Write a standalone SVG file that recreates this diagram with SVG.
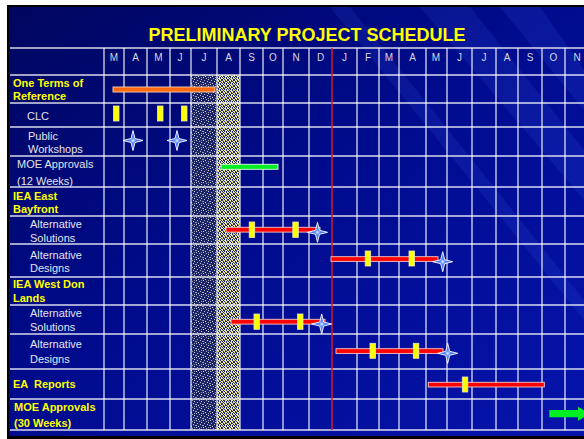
<svg xmlns="http://www.w3.org/2000/svg" width="584" height="439" viewBox="0 0 584 439">
<defs>
<linearGradient id="bg" x1="0" y1="0" x2="1" y2="1">
<stop offset="0" stop-color="#00065e"/>
<stop offset="0.45" stop-color="#000b8c"/>
<stop offset="1" stop-color="#0614ac"/>
</linearGradient>
<pattern id="darkStip" width="7" height="7" patternUnits="userSpaceOnUse">
<rect width="7" height="7" fill="#1c2468"/>
<rect x="0" y="0" width="1" height="1" fill="#c8c8d0"/>
<rect x="3" y="1" width="1" height="1" fill="#a8a8b8"/>
<rect x="5" y="2" width="1" height="1" fill="#d0d0d8"/>
<rect x="1" y="3" width="1" height="1" fill="#b0b0c0"/>
<rect x="4" y="4" width="1" height="1" fill="#c0c0c8"/>
<rect x="6" y="5" width="1" height="1" fill="#a0a0b0"/>
<rect x="2" y="6" width="1" height="1" fill="#d8d8e0"/>
<rect x="0" y="5" width="1" height="1" fill="#9898a8"/>
<rect x="5" y="0" width="1" height="1" fill="#9090a8"/>
</pattern>
<pattern id="yelStip" width="6" height="6" patternUnits="userSpaceOnUse">
<rect width="6" height="6" fill="#1e2670"/>
<rect x="0" y="0" width="1" height="1" fill="#f0ec90"/>
<rect x="2" y="0" width="1" height="1" fill="#e8e488"/>
<rect x="3" y="0" width="1" height="1" fill="#f4f0a0"/>
<rect x="5" y="0" width="1" height="1" fill="#e8e488"/>
<rect x="1" y="1" width="1" height="1" fill="#f0ec90"/>
<rect x="3" y="1" width="1" height="1" fill="#e8e488"/>
<rect x="4" y="1" width="1" height="1" fill="#f4f0a0"/>
<rect x="1" y="2" width="1" height="1" fill="#e8e488"/>
<rect x="2" y="2" width="1" height="1" fill="#f4f0a0"/>
<rect x="4" y="2" width="1" height="1" fill="#f0ec90"/>
<rect x="0" y="3" width="1" height="1" fill="#f4f0a0"/>
<rect x="2" y="3" width="1" height="1" fill="#e8e488"/>
<rect x="5" y="3" width="1" height="1" fill="#f0ec90"/>
<rect x="0" y="4" width="1" height="1" fill="#e8e488"/>
<rect x="3" y="4" width="1" height="1" fill="#f0ec90"/>
<rect x="4" y="4" width="1" height="1" fill="#f4f0a0"/>
<rect x="1" y="5" width="1" height="1" fill="#f0ec90"/>
<rect x="3" y="5" width="1" height="1" fill="#e8e488"/>
<rect x="5" y="5" width="1" height="1" fill="#f4f0a0"/>
</pattern>
<radialGradient id="starG" cx="0.5" cy="0.5" r="0.5">
<stop offset="0" stop-color="#e8f0ff"/>
<stop offset="0.25" stop-color="#5a88ff"/>
<stop offset="1" stop-color="#2a58f0"/>
</radialGradient>
<symbol id="star" overflow="visible">
<path d="M0,-10 L2,-2 L10,0 L2,2 L0,10 L-2,2 L-10,0 L-2,-2 Z" fill="url(#starG)" stroke="#ffffff" stroke-width="0.9"/>
</symbol>
<style>
.grid line{stroke:#ffffff;stroke-width:1.3;stroke-opacity:0.85}
.mon{font-family:"Liberation Sans",Arial,sans-serif;font-size:10px;fill:#d8d8e0;text-anchor:middle}
.lab{font-family:"Liberation Sans",Arial,sans-serif;font-size:11px;fill:#e4e4ec}
.ylab{font-family:"Liberation Sans",Arial,sans-serif;font-size:11px;font-weight:bold;fill:#ffff00}
.title{font-family:"Liberation Sans",Arial,sans-serif;font-size:18px;font-weight:bold;fill:#ffff00;text-anchor:middle}
.rbar{fill:#ff0000;stroke:#f4c8c8;stroke-width:0.9}
.mk{fill:#ffff00;stroke:#e8e8c0;stroke-width:0.8}
.gbar{fill:#00ee22;stroke:#e0ffe0;stroke-width:0.9}
</style>
</defs>
<rect width="584" height="439" fill="#ffffff"/>
<rect x="7" y="5" width="577" height="434" fill="#000000"/>
<rect x="9" y="7" width="575" height="429" fill="url(#bg)"/>
<g opacity="0.12" fill="#4a70ff">
<polygon points="420,7 470,7 584,150 584,200"/>
<polygon points="330,7 350,7 584,300 584,320"/>
<polygon points="500,7 540,7 584,70 584,110"/>
</g>
<text class="title" x="307" y="40.5">PRELIMINARY PROJECT SCHEDULE</text>

<g id="shading">
<rect x="191" y="75" width="26" height="355" fill="url(#darkStip)"/>
<rect x="217" y="75" width="23" height="355" fill="url(#yelStip)"/>
</g>

<g id="connectors" class="grid">
<line x1="10" y1="48" x2="584" y2="48"/>
<line x1="10" y1="75" x2="584" y2="75"/>
<line x1="10" y1="103" x2="584" y2="103"/>
<line x1="10" y1="127" x2="584" y2="127"/>
<line x1="10" y1="156" x2="584" y2="156"/>
<line x1="10" y1="187" x2="584" y2="187"/>
<line x1="10" y1="216" x2="584" y2="216"/>
<line x1="10" y1="244" x2="584" y2="244"/>
<line x1="10" y1="277" x2="584" y2="277"/>
<line x1="10" y1="305" x2="584" y2="305"/>
<line x1="10" y1="334" x2="584" y2="334"/>
<line x1="10" y1="369" x2="584" y2="369"/>
<line x1="10" y1="399" x2="584" y2="399"/>
<line x1="10" y1="430" x2="584" y2="430"/>
<line x1="104" y1="48" x2="104" y2="430"/>
<line x1="124" y1="48" x2="124" y2="430"/>
<line x1="147" y1="48" x2="147" y2="430"/>
<line x1="170" y1="48" x2="170" y2="430"/>
<line x1="191" y1="48" x2="191" y2="430"/>
<line x1="217" y1="48" x2="217" y2="430"/>
<line x1="240" y1="48" x2="240" y2="430"/>
<line x1="263" y1="48" x2="263" y2="430"/>
<line x1="283" y1="48" x2="283" y2="430"/>
<line x1="309" y1="48" x2="309" y2="430"/>
<line x1="357" y1="48" x2="357" y2="430"/>
<line x1="379" y1="48" x2="379" y2="430"/>
<line x1="399" y1="48" x2="399" y2="430"/>
<line x1="426" y1="48" x2="426" y2="430"/>
<line x1="447" y1="48" x2="447" y2="430"/>
<line x1="472" y1="48" x2="472" y2="430"/>
<line x1="496" y1="48" x2="496" y2="430"/>
<line x1="518" y1="48" x2="518" y2="430"/>
<line x1="542" y1="48" x2="542" y2="430"/>
<line x1="565" y1="48" x2="565" y2="430"/>
<line x1="332" y1="48" x2="332" y2="430" style="stroke:#d0182a;stroke-opacity:1;stroke-width:1.5"/>
</g>

<g id="months">
<text class="mon" x="114" y="61">M</text>
<text class="mon" x="135.5" y="61">A</text>
<text class="mon" x="158.5" y="61">M</text>
<text class="mon" x="180" y="61">J</text>
<text class="mon" x="204" y="61">J</text>
<text class="mon" x="228.5" y="61">A</text>
<text class="mon" x="251.5" y="61">S</text>
<text class="mon" x="273" y="61">O</text>
<text class="mon" x="296" y="61">N</text>
<text class="mon" x="320.5" y="61">D</text>
<text class="mon" x="344.5" y="61">J</text>
<text class="mon" x="368" y="61">F</text>
<text class="mon" x="389" y="61">M</text>
<text class="mon" x="412.5" y="61">A</text>
<text class="mon" x="436" y="61">M</text>
<text class="mon" x="459.5" y="61">J</text>
<text class="mon" x="484" y="61">J</text>
<text class="mon" x="507" y="61">A</text>
<text class="mon" x="530" y="61">S</text>
<text class="mon" x="553.5" y="61">O</text>
<text class="mon" x="577" y="61">N</text>
</g>

<g id="row-terms">
<text class="ylab" x="13" y="87">One Terms of</text>
<text class="ylab" x="13" y="100">Reference</text>
<rect x="113" y="87" width="102" height="5" fill="#ff6a10" stroke="#ffd0b0" stroke-width="0.9"/>
</g>
<g id="row-clc">
<text class="lab" x="27" y="120">CLC</text>
<rect class="mk" x="113.5" y="106" width="5.5" height="15"/>
<rect class="mk" x="157.5" y="106" width="5.5" height="15"/>
<rect class="mk" x="181.5" y="106" width="5.5" height="15"/>
</g>
<g id="row-workshops">
<text class="lab" x="28" y="140">Public</text>
<text class="lab" x="28" y="153">Workshops</text>
<use href="#star" x="133" y="140.5"/>
<use href="#star" x="177" y="140.5"/>
</g>
<g id="row-moe12">
<text class="lab" x="17" y="168">MOE Approvals</text>
<text class="lab" x="17" y="185">(12 Weeks)</text>
<rect class="gbar" x="221" y="164.3" width="57" height="5"/>
</g>
<g id="row-east">
<text class="ylab" x="13" y="200">IEA East</text>
<text class="ylab" x="13" y="213">Bayfront</text>
</g>
<g id="row-east-sol">
<text class="lab" x="30" y="228">Alternative</text>
<text class="lab" x="30" y="242">Solutions</text>
<rect class="rbar" x="226" y="227.3" width="94" height="4.8"/>
<rect class="mk" x="249.2" y="222" width="5.5" height="15.5"/>
<rect class="mk" x="292.8" y="222" width="5.5" height="15.5"/>
<use href="#star" x="317.5" y="232.3"/>
</g>
<g id="row-east-des">
<text class="lab" x="30" y="259">Alternative</text>
<text class="lab" x="30" y="272">Designs</text>
<rect class="rbar" x="331" y="256.7" width="107" height="4.7"/>
<rect class="mk" x="365.2" y="251" width="5.5" height="15"/>
<rect class="mk" x="409" y="251" width="5.5" height="15"/>
<use href="#star" x="442.7" y="261.7"/>
</g>
<g id="row-west">
<text class="ylab" x="13" y="288">IEA West Don</text>
<text class="ylab" x="13" y="302">Lands</text>
</g>
<g id="row-west-sol">
<text class="lab" x="30" y="317">Alternative</text>
<text class="lab" x="30" y="331">Solutions</text>
<rect class="rbar" x="231" y="319.3" width="94" height="4.8"/>
<rect class="mk" x="254" y="314" width="5.5" height="15.3"/>
<rect class="mk" x="297.5" y="314" width="5.5" height="15.3"/>
<use href="#star" x="321.7" y="324"/>
</g>
<g id="row-west-des">
<text class="lab" x="30" y="348">Alternative</text>
<text class="lab" x="30" y="363">Designs</text>
<rect class="rbar" x="336" y="348.7" width="107" height="4.7"/>
<rect class="mk" x="370" y="343.3" width="5.5" height="15"/>
<rect class="mk" x="413.3" y="343.3" width="5.5" height="15"/>
<use href="#star" x="447.7" y="353.3"/>
</g>
<g id="row-ea">
<text class="ylab" x="13" y="388" xml:space="preserve">EA  Reports</text>
<rect class="rbar" x="428.3" y="382.3" width="116" height="4.7"/>
<rect class="mk" x="462.3" y="377" width="5.5" height="15"/>
</g>
<g id="row-moe30">
<text class="ylab" x="14" y="411">MOE Approvals</text>
<text class="ylab" x="14" y="427">(30 Weeks)</text>
<polygon points="549.3,410 578,410 578,406.7 590,413.7 578,420.7 578,417.3 549.3,417.3" fill="#00ee22"/>
</g>
</svg>
